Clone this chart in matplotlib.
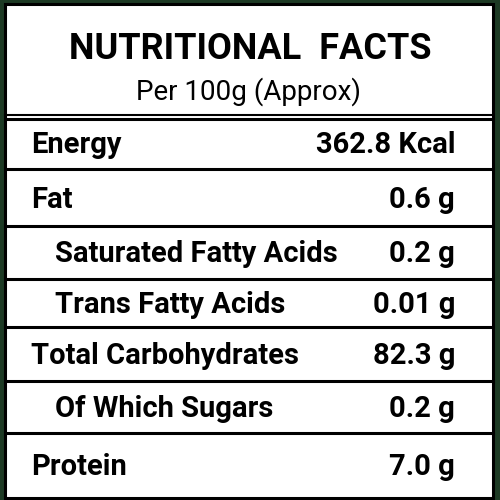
import matplotlib
matplotlib.use("Agg")
import matplotlib.pyplot as plt
from matplotlib.font_manager import fontManager

names = {f.name for f in fontManager.ttflist}
FONT = "Liberation Sans Narrow" if "Liberation Sans Narrow" in names else "Roboto"

title = "NUTRITIONAL  FACTS"
subtitle = "Per 100g (Approx)"
labels = ["Energy", "Fat", "Saturated Fatty Acids", "Trans Fatty Acids",
          "Total Carbohydrates", "Of Which Sugars", "Protein"]
values = ["362.8 Kcal", "0.6 g", "0.2 g", "0.01 g", "82.3 g", "0.2 g", "7.0 g"]
indented = [False, False, True, True, False, True, False]

# row separators (pixel y)
row_lines = [117, 169, 226, 279, 327, 381, 433, 497]

fig = plt.figure(figsize=(5, 5), dpi=100)
fig.patch.set_facecolor("#1d3a24")
ax = fig.add_axes([0, 0, 1, 1])
ax.set_xlim(0, 500)
ax.set_ylim(500, 0)
ax.axis("off")

# white card with black frame
ax.add_patch(plt.Rectangle((5, 4), 488, 494, facecolor="white", edgecolor="black", lw=2.2))
ax.plot([5, 493], [115, 115], color="black", lw=1.5)
for y in row_lines[:-1]:
    ax.plot([5, 493], [y + 2, y + 2] if y == 117 else [y, y], color="black", lw=2.2)

ax.text(250, 49, title, ha="center", va="center", fontsize=26, fontweight="bold", family=FONT)
ax.text(249, 92, subtitle, ha="center", va="center", fontsize=20, family=FONT)

for i, (lab, val, ind) in enumerate(zip(labels, values, indented)):
    yc = (row_lines[i] + row_lines[i + 1]) / 2 + 2
    ax.text(55 if ind else 31, yc, lab, ha="left", va="center", fontsize=21,
            fontweight="bold", family=FONT)
    ax.text(455, yc, val, ha="right", va="center", fontsize=21,
            fontweight="bold", family=FONT)

fig.savefig("out.png", dpi=100)
